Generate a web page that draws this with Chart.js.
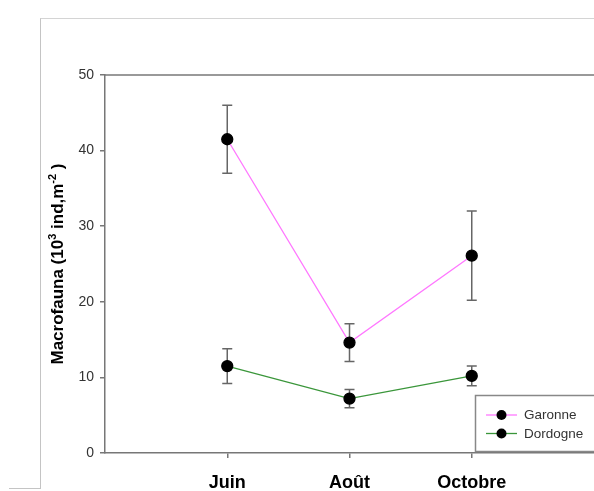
<!DOCTYPE html>
<html lang="fr">
<head>
<meta charset="UTF-8" />
<title>Macrofauna</title>
<script src="https://cdn.jsdelivr.net/npm/chart.js"></script>
<style>
  html, body { margin: 0; padding: 0; background: #fff; }
  body { width: 594px; height: 491px; overflow: hidden; position: relative; font-family: "Liberation Sans", Arial, sans-serif; }
  #frame { position: absolute; left: 40px; top: 18px; width: 570px; height: 470px; border-top: 1px solid #d4d4d4; border-left: 1px solid #c4c4c4; }
  #foot { position: absolute; left: 9px; top: 488px; width: 32px; border-top: 1px solid #c4c4c4; }
  #chart { position: absolute; left: 0; top: 0; }
</style>
</head>
<body>
<div id="frame"></div>
<div id="foot"></div>
<canvas id="chart" width="594" height="491"></canvas>

<script>
  // data
  const months = ['Juin', 'Août', 'Octobre'];
  const monthPos = [1, 2, 3];
  const garonne = [41.5, 14.6, 26.1];
  const garonneErr = [4.5, 2.5, 5.9];
  const dordogne = [11.5, 7.2, 10.2];
  const dordogneErr = [2.3, 1.2, 1.3];
  const yTicks = [0, 10, 20, 30, 40, 50];
  // y title pieces: [text, superscript?]
  const yTitle = [['Macrofauna (10', false], ['3', true], [' ind,m', false], ['-2', true], [' )', false]];

  const pts = (vals) => vals.map((v, i) => ({ x: monthPos[i], y: v }));
  const errs = [garonneErr, dordogneErr];

  // error bars, drawn under the markers
  const errorBars = {
    id: 'errorBars',
    beforeDatasetsDraw(chart) {
      const { ctx, scales: { x, y } } = chart;
      ctx.save();
      ctx.strokeStyle = '#666';
      ctx.lineWidth = 1.5;
      chart.data.datasets.forEach((ds, d) => {
        ds.data.forEach((p, i) => {
          const px = x.getPixelForValue(p.x);
          const top = y.getPixelForValue(p.y + errs[d][i]);
          const bot = y.getPixelForValue(p.y - errs[d][i]);
          ctx.beginPath();
          ctx.moveTo(px, top); ctx.lineTo(px, bot);
          ctx.moveTo(px - 5, top); ctx.lineTo(px + 5, top);
          ctx.moveTo(px - 5, bot); ctx.lineTo(px + 5, bot);
          ctx.stroke();
        });
      });
      ctx.restore();
    }
  };

  // top frame line of the plot + rotated y title with superscripts
  const frameAndTitle = {
    id: 'frameAndTitle',
    beforeDraw(chart) {
      const { ctx, chartArea: a } = chart;
      ctx.save();
      ctx.strokeStyle = '#999';
      ctx.lineWidth = 2;
      ctx.beginPath();
      ctx.moveTo(a.left, a.top); ctx.lineTo(a.right, a.top);
      ctx.stroke();

      const big = 'bold 17px "Liberation Sans", Arial, sans-serif';
      const small = 'bold 11px "Liberation Sans", Arial, sans-serif';
      let total = 0;
      yTitle.forEach(([t, sup]) => { ctx.font = sup ? small : big; total += ctx.measureText(t).width; });
      ctx.translate(57, (a.top + a.bottom) / 2);
      ctx.rotate(-Math.PI / 2);
      ctx.fillStyle = '#000';
      ctx.textBaseline = 'alphabetic';
      let cx = -total / 2;
      yTitle.forEach(([t, sup]) => {
        ctx.font = sup ? small : big;
        ctx.fillText(t, cx, sup ? -1 : 6);
        cx += ctx.measureText(t).width;
      });
      ctx.restore();
    }
  };

  // boxed legend in the lower right corner
  const boxLegend = {
    id: 'boxLegend',
    afterDraw(chart) {
      const { ctx } = chart;
      ctx.save();
      ctx.fillStyle = '#fff';
      ctx.fillRect(475.5, 395.5, 130, 56);
      ctx.strokeStyle = '#888';
      ctx.lineWidth = 1.5;
      ctx.strokeRect(475.5, 395.5, 130, 56);
      ctx.font = '13.5px "Liberation Sans", Arial, sans-serif';
      ctx.textBaseline = 'middle';
      chart.data.datasets.forEach((ds, i) => {
        const ly = 415 + i * 18.5;
        ctx.strokeStyle = ds.borderColor;
        ctx.lineWidth = 1.3;
        ctx.beginPath();
        ctx.moveTo(486, ly); ctx.lineTo(517, ly);
        ctx.stroke();
        ctx.fillStyle = '#000';
        ctx.beginPath();
        ctx.arc(501.5, ly, 5, 0, Math.PI * 2);
        ctx.fill();
        ctx.fillStyle = '#333';
        ctx.fillText(ds.label, 524, ly + 0.5);
      });
      ctx.restore();
    }
  };

  new Chart(document.getElementById('chart'), {
    type: 'line',
    data: {
      datasets: [
        {
          label: 'Garonne',
          data: pts(garonne),
          borderColor: '#ff77ff',
          borderWidth: 1.3,
          pointRadius: 5.5,
          pointBackgroundColor: '#000',
          pointBorderColor: '#000',
          tension: 0
        },
        {
          label: 'Dordogne',
          data: pts(dordogne),
          borderColor: '#3a963a',
          borderWidth: 1.3,
          pointRadius: 5.5,
          pointBackgroundColor: '#000',
          pointBorderColor: '#000',
          tension: 0
        }
      ]
    },
    options: {
      responsive: false,
      animation: false,
      devicePixelRatio: 1,
      layout: { autoPadding: false, padding: { top: 75, right: 0, left: 0, bottom: 0 } },
      plugins: { legend: { display: false }, tooltip: { enabled: false } },
      scales: {
        x: {
          type: 'linear',
          min: 0,
          max: 4,
          afterBuildTicks: (s) => { s.ticks = monthPos.map(v => ({ value: v })); },
          afterFit: (s) => { s.height = 38; s.paddingLeft = 0; s.paddingRight = 0; },
          ticks: {
            callback: (v) => months[monthPos.indexOf(v)],
            color: '#000',
            font: { family: '"Liberation Sans", Arial', size: 18, weight: 'bold' },
            padding: 14,
            maxRotation: 0
          },
          grid: { drawOnChartArea: false, tickLength: 5, color: '#777', lineWidth: 1.5 },
          border: { color: '#777', width: 1.5 }
        },
        y: {
          min: 0,
          max: 50,
          afterBuildTicks: (s) => { s.ticks = yTicks.map(v => ({ value: v })); },
          afterFit: (s) => { s.width = 105; s.paddingTop = 0; s.paddingBottom = 0; },
          ticks: {
            color: '#333',
            font: { family: '"Liberation Sans", Arial', size: 14 },
            padding: 6
          },
          grid: { drawOnChartArea: false, tickLength: 5, color: '#777', lineWidth: 1.5 },
          border: { color: '#777', width: 1.5 }
        }
      }
    },
    plugins: [frameAndTitle, errorBars, boxLegend]
  });
</script>
</body>
</html>
